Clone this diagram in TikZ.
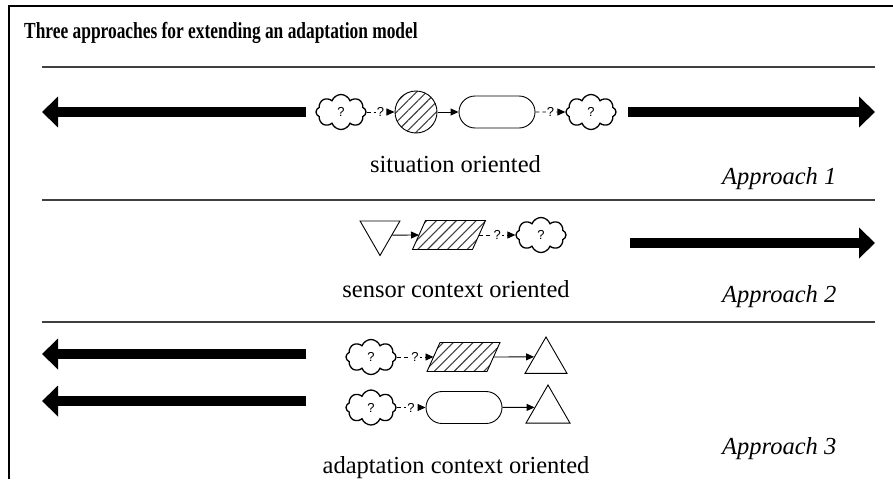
\documentclass[tikz,border=0pt]{standalone}
\usepackage{fontspec}
\setmainfont{Liberation Serif}
\newfontfamily\qfont{Liberation Sans}
\usetikzlibrary{arrows.meta,shapes.symbols,shapes.geometric,shapes.misc,patterns.meta,calc}
\begin{document}
\begin{tikzpicture}[x=1pt,y=-1pt,
  sepline/.style={line width=1.5pt, draw=black!75},
  bigarrow/.style={line width=10pt, -{Triangle[length=16pt,width=30pt]}},
  qmark/.style={font=\qfont\fontsize{13}{15}\selectfont},
  cloudnode/.style={cloud, draw, line width=1.3pt, cloud puffs=8, cloud puff arc=140, cloud ignores aspect, minimum width=50pt, minimum height=35pt, inner sep=0pt, qmark},
  hatch/.style={pattern={Lines[angle=45,distance=7pt,line width=1.1pt]}, pattern color=black!75},
  circnode/.style={circle, draw, line width=0.9pt, minimum size=42pt, inner sep=0pt, hatch},
  stadium/.style={rounded rectangle, draw, line width=0.9pt, minimum width=76pt, minimum height=32pt, inner sep=0pt},
  parabox/.style={rectangle, draw=none, minimum width=60pt, minimum height=29pt, inner sep=0pt, outer sep=0pt},
  paradraw/.style={draw, line width=0.9pt, hatch},
  tri/.style={regular polygon, regular polygon sides=3, draw, line width=0.9pt, inner sep=0pt},
  small/.style={line width=0.9pt, -{Triangle[length=8pt,width=7pt]}},
  dsmall/.style={small, dash pattern=on 4pt off 3pt},
  lab/.style={fill=white, inner sep=1pt, qmark},
  body/.style={font=\fontsize{24.5}{29}\selectfont},
  appr/.style={font=\itshape\fontsize{24.5}{29}\selectfont, anchor=base west}
]
\useasboundingbox (0,0) rectangle (893,479);
% frame
\draw[line width=2pt] (9,479) -- (9,6) -- (893,6);
% title
\node[anchor=base west, inner sep=0pt, font=\bfseries\fontsize{23}{27}\selectfont] (title) at (24,38) {\scalebox{0.756}[1]{Three approaches for extending an adaptation model}};
% separators
\draw[sepline] (42,67) -- (875,67);
\draw[sepline] (42,200) -- (875,200);
\draw[sepline] (42,322) -- (875,322);

% ---------- Approach 1 ----------
\coordinate (a1l0) at (306,112); \coordinate (a1l1) at (42,112);
\coordinate (a1r0) at (628,112); \coordinate (a1r1) at (875,112);
\draw[bigarrow] (a1l0) -- (a1l1);
\draw[bigarrow] (a1r0) -- (a1r1);
\node[cloudnode] (c1) at (341,112) {?};
\node[circnode] (s1) at (416,112) {};
\node[stadium] (r1) at (497,112) {};
\node[cloudnode] (c2) at (591,112) {?};
\draw[dsmall] (c1) -- node[lab] {?} (s1);
\draw[small] (s1) -- (r1);
\draw[dsmall] (r1) -- node[lab] {?} (c2);
\node[body, anchor=base, inner sep=0pt] (t1) at (455.5,172.5) {situation oriented};
\node[appr, inner sep=0pt] (ap1) at (722,184) {Approach 1};

% ---------- Approach 2 ----------
\coordinate (a2r0) at (630,243); \coordinate (a2r1) at (875,243);
\draw[bigarrow] (a2r0) -- (a2r1);
\node[tri, minimum size=46pt, shape border rotate=180] (v2) at (380,232.5) {};
\node[parabox] (p2) at (449,235) {};
\draw[paradraw] ($(p2.south west)+(-6.5,0)$) -- ($(p2.north west)+(6.5,0)$) -- ($(p2.north east)+(6.5,0)$) -- ($(p2.south east)+(-6.5,0)$) -- cycle;
\node[cloudnode] (c3) at (541,235) {?};
\draw[small] ($(v2.corner 2)!0.406!(v2.corner 1)$) -- (p2.west);
\draw[dsmall] (p2.east) -- node[lab] {?} (c3);
\node[body, anchor=base, inner sep=0pt] (t2) at (456,297.5) {sensor context oriented};
\node[appr, inner sep=0pt] (ap2) at (722,302) {Approach 2};

% ---------- Approach 3 ----------
\coordinate (a3l0) at (306,354); \coordinate (a3l1) at (42,354);
\coordinate (a4l0) at (306,401); \coordinate (a4l1) at (42,401);
\draw[bigarrow] (a3l0) -- (a3l1);
\draw[bigarrow] (a4l0) -- (a4l1);
\node[cloudnode] (c4) at (371,357) {?};
\node[parabox] (p3) at (463.5,357) {};
\draw[paradraw] ($(p3.south west)+(-6.5,0)$) -- ($(p3.north west)+(6.5,0)$) -- ($(p3.north east)+(6.5,0)$) -- ($(p3.south east)+(-6.5,0)$) -- cycle;
\node[tri, minimum size=48.5pt] (u3) at (546,361.25) {};
\draw[dsmall] (c4) -- node[lab] {?} (p3.west);
\draw[small] (p3.east) -- ($(u3.corner 2)!0.45!(u3.corner 1)$);
\node[cloudnode] (c5) at (371,407.5) {?};
\node[stadium] (r3) at (464,407.5) {};
\node[tri, minimum size=50.8pt] (u4) at (548,410.4) {};
\draw[dsmall] (c5) -- node[lab] {?} (r3);
\draw[small] (r3) -- ($(u4.corner 2)!0.41!(u4.corner 1)$);
\node[body, anchor=base, inner sep=0pt] (t3) at (456,473.5) {adaptation context oriented};
\node[appr, inner sep=0pt] (ap3) at (722,454) {Approach 3};
\end{tikzpicture}
\end{document}
